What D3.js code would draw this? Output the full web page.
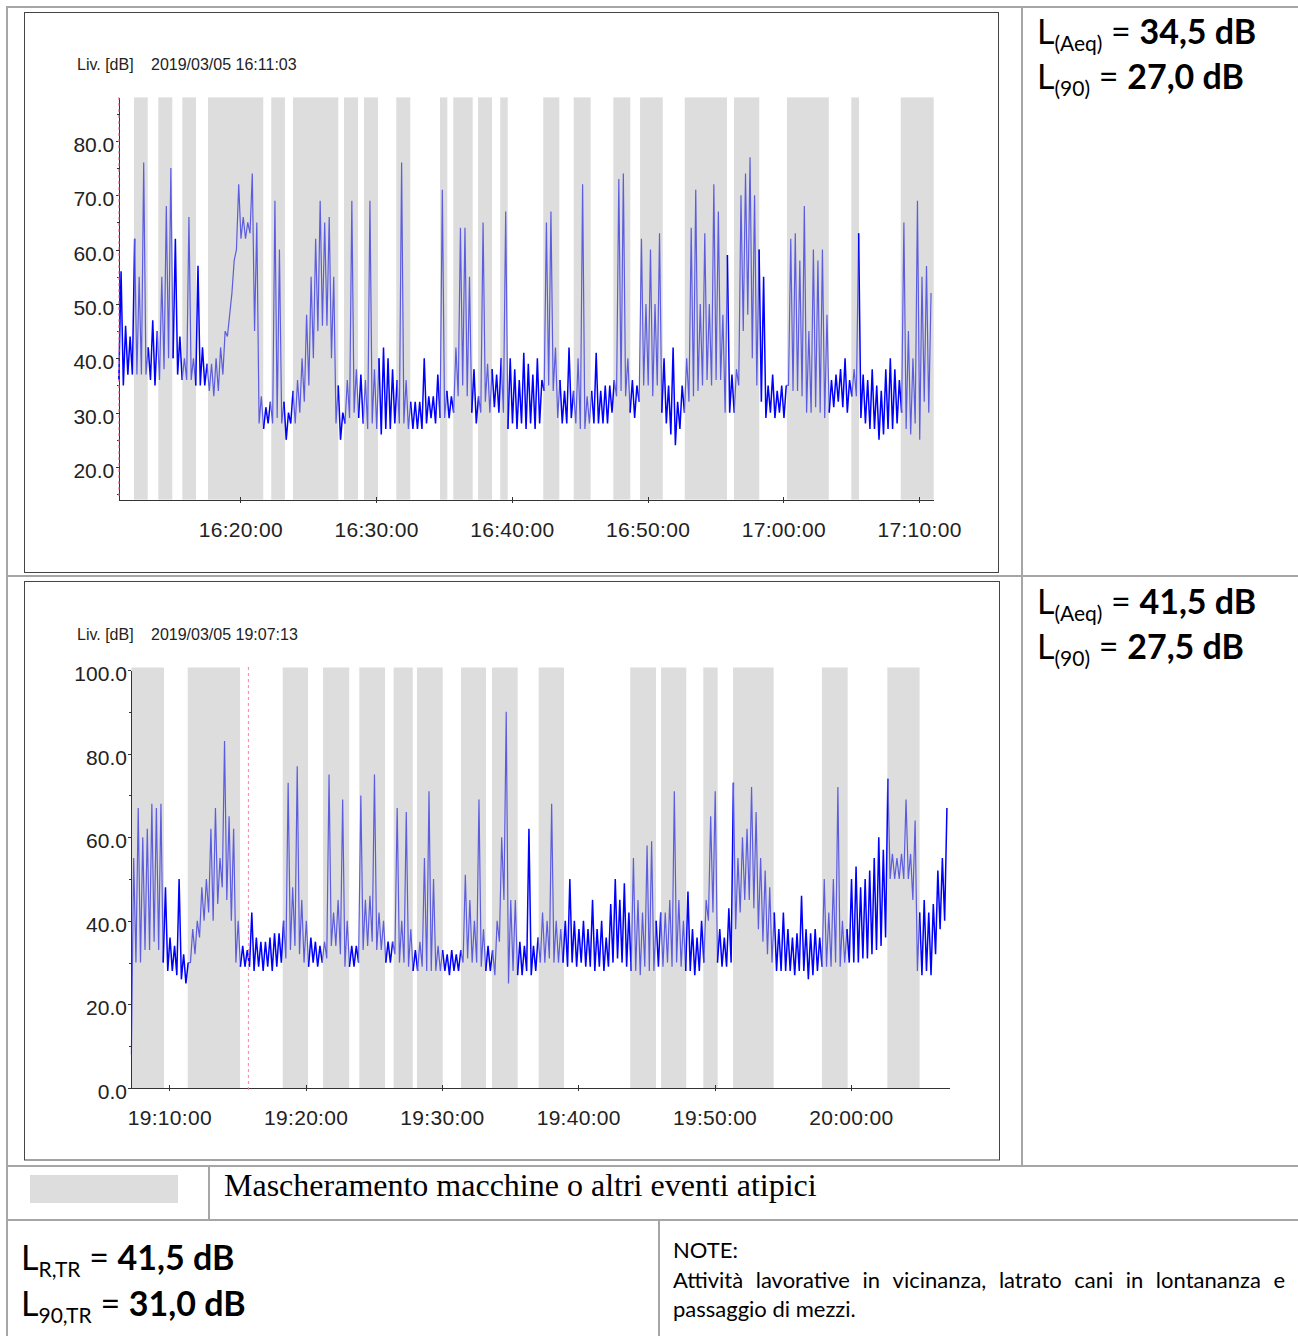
<!DOCTYPE html>
<html>
<head>
<meta charset="utf-8">
<title>Rilievo fonometrico</title>
<style>
  body { margin: 0; background: #fff; }
  .plot text { font-family: "Liberation Sans", Arial, sans-serif; fill: #222; }
  .axis path, .axis line { stroke: #333; shape-rendering: crispEdges; }
  .cell text { font-family: Lato, "Open Sans", sans-serif; fill: #000; white-space: pre; }
  .legend text { font-family: "Liberation Serif", "Times New Roman", serif; fill: #000; }
</style>
<script src="https://d3js.org/d3.v7.min.js"></script>
</head>
<body>
<svg id="page" width="1298" height="1336"></svg>
<script>
// sampling: one lo/hi pair every 20 s, minutes 0..59 (3 pairs per row)
const stepMin = 1 / 3;

// ---- chart 1: 2019/03/05 16:11:03 ----
const start1 = "2019/03/05 16:11:03";
const lo1 = [
  36,35,37, 37,37,37, 37,36,35, 36,38,40, 40,37,36, 36,36,35, 35,35,34, 33,34,37, 44,52,60, 62,62,63,
  45,28,27, 28,28,29, 28,25,28, 28,30,32, 35,40,45, 46,46,40, 28,25,28, 29,30,29, 28,27,28, 27,26,27,
  27,28,28, 28,27,27, 27,27,28, 29,28,29, 29,29,30, 33,35,33, 30,28,30, 32,30,31, 30,30,27, 28,27,28,
  27,28,27, 28,34,35, 34,29,28, 28,29,28, 27,27,28, 28,28,28, 28,30,33, 34,33,30, 29,32,35, 35,33,35,
  30,28,26, 24,27,30, 32,33,34, 35,36,35, 36,36,30, 30,30,35, 45,48,40, 35,32,29, 30,29,30, 29,35,34,
  34,33,30, 30,31,30, 29,30,31, 32,31,30, 33,33,29, 28,27,27, 25,26,27, 27,28,30, 27,26,28, 25,32,30
];
const hi1 = [
  56,46,44, 62,55,76, 42,47,45, 55,68,75, 62,44,40, 66,40,57, 42,39,39, 40,42,45, 48,58,72, 66,65,74,
  65,33,31, 32,69,60, 32,30,34, 36,40,48, 55,62,69, 65,66,55, 35,30,36, 69,38,37, 36,69,38, 40,42,40,
  38,36,76, 36,32,32, 32,40,33, 33,37,71, 34,33,42, 64,64,55, 38,33,65, 39,38,37, 40,67,40, 38,36,41,
  39,37,40, 36,65,67, 42,36,34, 42,34,40, 72,33,34, 41,34,35, 35,36,73, 74,40,36, 35,62,50, 60,50,63,
  40,35,42, 32,35,40, 64,71,50, 63,50,72, 67,48,59, 37,38,70, 74,77,70, 60,55,35, 37,34,35, 35,62,63,
  58,68,45, 60,58,60, 48,36,37, 38,40,36, 38,63,37, 36,38,35, 34,38,40, 38,36,65, 45,40,69, 55,57,52
];
// masked intervals, minutes from start
const masks1 = [
  [1.12,2.13],[2.91,3.94],[4.68,5.69],[6.57,10.64],[11.23,12.24],[12.83,16.17],[16.59,17.62],
  [18.06,19.09],[20.44,21.47],[23.66,24.20],[24.64,26.07],[26.46,27.49],[28.10,28.65],[31.27,32.45],
  [33.51,34.76],[36.43,37.68],[38.40,40.07],[41.69,44.80],[45.32,47.18],[49.22,52.30],[53.96,54.53],
  [57.60,60.03]
];
const xTicks1 = ["16:20:00","16:30:00","16:40:00","16:50:00","17:00:00","17:10:00"];
const yTicks1 = [20,30,40,50,60,70,80];
const yMinor1 = [15,25,35,45,55,65,75,85];
const marker1 = "16:11:03";

// ---- chart 2: 2019/03/05 19:07:13 ----
const start2 = "2019/03/05 19:07:13";
const lo2 = [
   8,30,30, 33,33,35, 33,30,28, 28,27,26, 25,30,32, 36,40,42, 40,44,48, 45,40,30, 29,29,29, 28,29,28,
  29,28,29, 30,31,33, 34,32,30, 29,30,29, 30,31,34, 34,32,29, 29,29,30, 33,34,35, 33,33,30, 30,32,30,
  30,29,28, 28,29,28, 28,28,28, 28,27,28, 28,30,31, 30,30,29, 28,28,27, 35,45,25, 28,27,27, 28,27,28,
  30,30,31, 30,30,30, 29,30,29, 30,29,29, 28,29,28, 29,30,31, 30,29,28, 28,27,29, 28,28,29, 29,30,29,
  30,29,28, 28,27,28, 30,40,42, 30,29,29, 30,38,42, 45,45,43, 38,35,32, 30,28,28, 28,28,27, 28,28,26,
  27,28,29, 29,29,30, 29,30,30, 30,30,31, 31,32,33, 34,36,50, 50,50,50, 50,45,28, 27,28,27, 32,38,40
];
const hi2 = [
  55,67,60, 62,68,67, 68,48,36, 34,50,32, 30,38,40, 48,50,62, 67,55,83, 65,62,40, 34,33,42, 36,35,35,
  36,37,37, 40,73,48, 77,45,40, 36,35,34, 35,75,42, 45,69,40, 34,34,70, 45,46,75, 42,40,35, 35,67,40,
  66,38,33, 35,55,71, 50,34,33, 32,33,32, 33,51,45, 40,69,38, 34,33,40, 60,90,45, 45,35,34, 62,34,36,
  42,40,68, 40,38,40, 50,40,38, 40,38,45, 38,40,36, 44,50,45, 49,42,55, 45,42,58, 59,40,42, 42,45,71,
  45,40,47, 38,36,40, 45,65,71, 38,36,43, 73,55,60, 62,72,66, 55,52,48, 42,38,42, 38,36,37, 46,38,37,
  38,36,50, 42,50,72, 40,38,50, 53,48,50, 52,55,60, 57,74,56, 55,56,69, 56,64,42, 45,42,44, 52,55,67
];
const masks2 = [
  [0,2.39],[4.13,7.97],[11.10,12.96],[14.06,15.98],[16.72,18.61],[19.24,20.64],[20.95,22.84],
  [24.18,26.02],[26.46,28.34],[29.88,31.74],[36.60,38.49],[38.86,40.71],[41.96,43.01],[44.14,47.12],
  [50.66,52.55],[55.46,57.83]
];
const xTicks2 = ["19:10:00","19:20:00","19:30:00","19:40:00","19:50:00","20:00:00"];
const yTicks2 = [0,20,40,60,80,100];
const yMinor2 = [10,30,50,70,90];
const marker2 = "19:15:48";

// ---- table texts ----
const laeq = ["34,5 dB", "41,5 dB"];
const l90 = ["27,0 dB", "27,5 dB"];
const lrtr = "41,5 dB";
const l90tr = "31,0 dB";
const legendLabel = "Mascheramento macchine o altri eventi atipici";
const noteTitle = "NOTE:";
const noteLines = ["Attività lavorative in vicinanza, latrato cani in lontananza e", "passaggio di mezzi."];

const parse = d3.timeParse("%Y/%m/%d %H:%M:%S");
const fmt = d3.timeFormat("%H:%M:%S");
const svg = d3.select("#page");

// ---- table grid ----
const grid = svg.append("g").attr("stroke", "#a6a6a6").attr("stroke-width", 2);
[[6,7,1298,7],[7,6,7,1336],[7,576,1298,576],[7,1166,1298,1166],[7,1220,1298,1220],
 [1022,7,1022,1166],[209,1166,209,1220],[659,1220,659,1336]].forEach(l =>
  grid.append("line").attr("x1", l[0]).attr("y1", l[1]).attr("x2", l[2]).attr("y2", l[3]));

const charts = [
  { start: start1, lo: lo1, hi: hi1, masks: masks1, xTicks: xTicks1, yTicks: yTicks1, yMinor: yMinor1,
    marker: marker1, yDomain: [14, 88], bandTop: 88, frame: [24.5, 12.5, 974, 560],
    plot: { x0: 118.8, x1: 933.3, yTop: 97.4, yBot: 499.6 }, headerY: 70, markerY: [97, 499] },
  { start: start2, lo: lo2, hi: hi2, masks: masks2, xTicks: xTicks2, yTicks: yTicks2, yMinor: yMinor2,
    marker: marker2, yDomain: [0, 100], bandTop: 100.6, frame: [24.5, 581.5, 975, 578.5],
    plot: { x0: 131.4, x1: 949.2, yTop: 670, yBot: 1088 }, headerY: 640, markerY: [667, 1093] }
];

charts.forEach(c => {
  const g = svg.append("g").attr("class", "plot");
  const t0 = parse(c.start);
  const day = c.start.slice(0, 10);
  const at = m => new Date(t0.getTime() + m * 60000);

  g.append("rect").attr("x", c.frame[0]).attr("y", c.frame[1]).attr("width", c.frame[2]).attr("height", c.frame[3])
    .attr("fill", "#fff").attr("stroke", "#444");

  const x = d3.scaleTime().domain([t0, at(60)]).range([c.plot.x0, c.plot.x1]);
  const y = d3.scaleLinear().domain(c.yDomain).range([c.plot.yBot, c.plot.yTop]);

  g.append("text").attr("x", 77).attr("y", c.headerY).style("font-size", "16px").text("Liv. [dB]");
  g.append("text").attr("x", 151).attr("y", c.headerY).style("font-size", "16px").text(c.start);

  // masking bands
  g.append("g").selectAll("rect").data(c.masks).join("rect")
    .attr("x", d => x(at(d[0]))).attr("width", d => x(at(d[1])) - x(at(d[0])))
    .attr("y", y(c.bandTop)).attr("height", y(c.yDomain[0]) - y(c.bandTop))
    .attr("fill", "#dddddd");

  // level trace: lo at sample start, hi half a step later
  const pts = [];
  c.lo.forEach((v, i) => {
    pts.push([i * stepMin, v]);
    pts.push([i * stepMin + stepMin / 2, c.hi[i]]);
  });
  const masked = m => c.masks.some(r => m >= r[0] && m <= r[1]);
  const runs = [];
  let cur = null;
  for (let i = 0; i < pts.length - 1; i++) {
    const m = masked((pts[i][0] + pts[i + 1][0]) / 2);
    if (!cur || cur.m !== m) { cur = { m: m, pts: [pts[i]] }; runs.push(cur); }
    cur.pts.push(pts[i + 1]);
  }
  const line = d3.line().x(d => x(at(d[0]))).y(d => y(d[1]));
  g.append("g").selectAll("path").data(runs).join("path")
    .attr("d", d => line(d.pts)).attr("fill", "none")
    .attr("stroke", d => d.m ? "#5c5cde" : "#0000ff")
    .attr("stroke-width", d => d.m ? 1.2 : 1.5)
    .attr("stroke-linejoin", "bevel");

  // axes
  const xTickDates = c.xTicks.map(s => parse(day + " " + s));
  const xa = g.append("g").attr("class", "axis").attr("transform", `translate(0,${c.plot.yBot})`)
    .call(d3.axisBottom(x).tickValues(xTickDates).tickFormat(fmt).tickSize(3).tickSizeOuter(0));
  xa.selectAll(".tick line").attr("y1", -3).attr("y2", 3);
  xa.selectAll(".tick text").attr("y", 37).attr("dy", null).style("font-size", "21px").style("letter-spacing", "0.3px")
    .attr("fill", "#222");
  xa.attr("font-family", null).attr("font-size", null);

  const ya = g.append("g").attr("class", "axis").attr("transform", `translate(${c.plot.x0},0)`)
    .call(d3.axisLeft(y).tickValues(c.yTicks).tickFormat(d3.format(".1f")).tickSize(3).tickSizeOuter(0));
  ya.selectAll(".tick text").attr("x", -4.5).attr("dy", null).attr("y", 10.5).style("font-size", "21px")
    .attr("fill", "#222");
  ya.attr("font-family", null).attr("font-size", null);
  g.append("g").attr("class", "axis").attr("transform", `translate(${c.plot.x0},0)`)
    .call(d3.axisLeft(y).tickValues(c.yMinor).tickFormat("").tickSize(2).tickSizeOuter(0))
    .select(".domain").remove();

  // start / cursor marker
  const mx = x(parse(day + " " + c.marker));
  g.append("line").attr("x1", mx).attr("x2", mx).attr("y1", c.markerY[0]).attr("y2", c.markerY[1])
    .attr("stroke", "#ff7fae").attr("stroke-width", 1).attr("stroke-dasharray", "3,3");
});

// ---- level texts ----
const cell = svg.append("g").attr("class", "cell");
function levelText(xp, yp, sub, value) {
  const t = cell.append("text").attr("x", xp).attr("y", yp).style("font-size", "34px");
  t.append("tspan").text("L");
  t.append("tspan").attr("dy", 7).style("font-size", "21px").text(sub);
  t.append("tspan").attr("dy", -7).text(" = ");
  t.append("tspan").style("font-weight", "bold").text(value);
}
levelText(1037, 44, "(Aeq)", laeq[0]);
levelText(1037, 89, "(90)", l90[0]);
levelText(1037, 614, "(Aeq)", laeq[1]);
levelText(1037, 659, "(90)", l90[1]);
levelText(21, 1270, "R,TR", lrtr);
levelText(21, 1316, "90,TR", l90tr);

// ---- legend ----
const lg = svg.append("g").attr("class", "legend");
lg.append("rect").attr("x", 30).attr("y", 1175).attr("width", 148).attr("height", 28).attr("fill", "#dddddd");
lg.append("text").attr("x", 224).attr("y", 1196).style("font-size", "32px").text(legendLabel);

// ---- notes ----
const note = svg.append("g").attr("class", "cell").style("font-size", "22px");
note.append("text").attr("x", 673).attr("y", 1258).text(noteTitle);
function justify(words, x0, x1, yp) {
  const nodes = words.map(w => note.append("text").attr("y", yp).text(w));
  const widths = nodes.map(n => n.node().getComputedTextLength());
  const gap = (x1 - x0 - d3.sum(widths)) / (words.length - 1);
  let xp = x0;
  nodes.forEach((n, i) => { n.attr("x", xp); xp += widths[i] + gap; });
}
justify(noteLines[0].split(" "), 673, 1285, 1288);
note.append("text").attr("x", 673).attr("y", 1317).text(noteLines[1]);
</script>
</body>
</html>
